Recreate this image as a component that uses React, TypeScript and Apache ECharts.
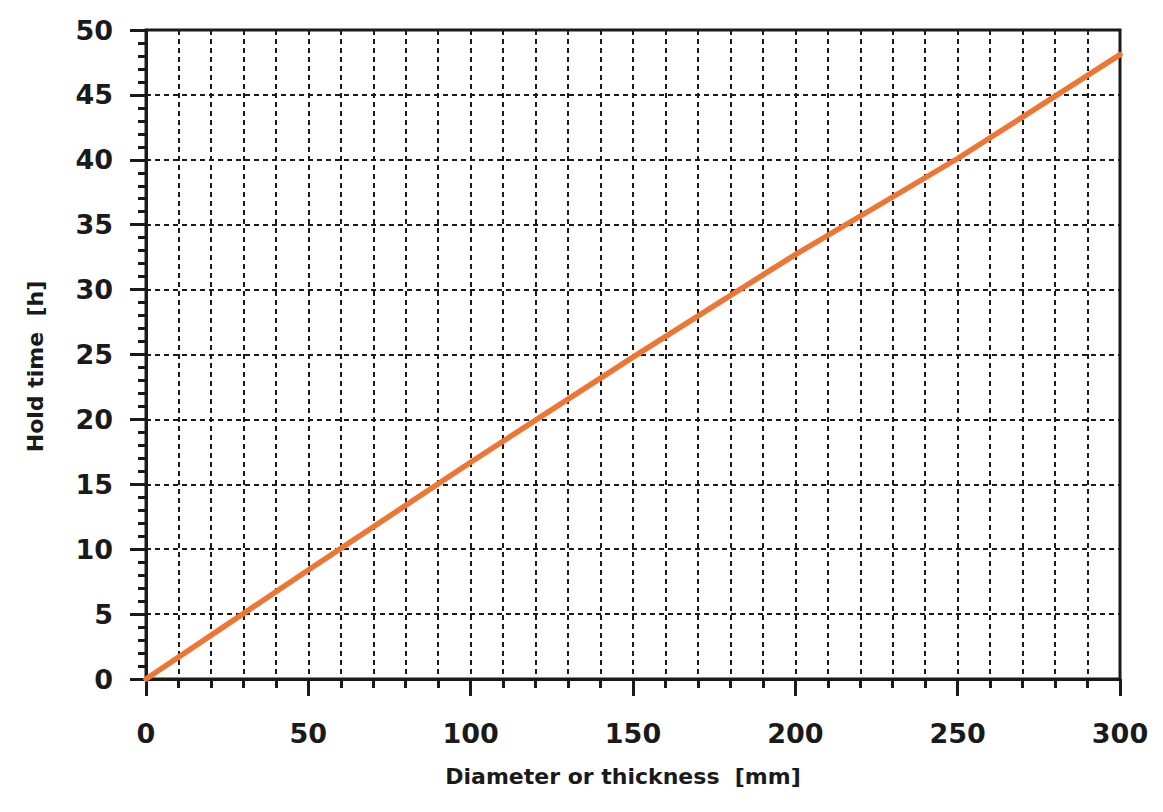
import React, { useEffect, useRef } from "react";
import * as echarts from "echarts";

const diameters = [0, 50, 100, 150, 200, 250, 300];
const holdTimes = [0, 8.4, 16.7, 24.8, 32.7, 40.1, 48.1];
const xTitle = "Diameter or thickness  [mm]";
const yTitle = "Hold time  [h]";

const INK = "#1a1a1a";
const FONT = "DejaVu Sans";

export default function App() {
  const ref = useRef<HTMLDivElement>(null);
  useEffect(() => {
    if (!ref.current) return;
    const chart = echarts.init(ref.current, null, { renderer: "svg" });
    const dashed = { color: INK, width: 2, type: [5, 4] as number[] };
    chart.setOption({
      animation: false,
      grid: {
        left: 138,
        right: 35,
        top: 22,
        bottom: 125,
        show: true,
        borderColor: INK,
        borderWidth: 3,
        z: 3,
      },
      xAxis: {
        type: "value",
        min: 0,
        max: 300,
        interval: 50,
        name: xTitle,
        nameLocation: "middle",
        nameGap: 86,
        nameTextStyle: {
          fontFamily: FONT,
          fontWeight: "bold",
          fontSize: 22,
          color: INK,
          padding: [0, 20, 0, 0],
        },
        axisLine: { show: true, lineStyle: { color: INK, width: 3 } },
        axisTick: { show: true, length: 17, lineStyle: { color: INK, width: 3 } },
        minorTick: { show: true, splitNumber: 5, length: 9, lineStyle: { color: INK, width: 3 } },
        splitLine: { show: true, lineStyle: dashed },
        minorSplitLine: { show: true, lineStyle: dashed },
        axisLabel: { margin: 41, fontFamily: FONT, fontWeight: "bold", fontSize: 27, color: INK },
      },
      yAxis: {
        type: "value",
        min: 0,
        max: 50,
        interval: 5,
        name: yTitle,
        nameLocation: "middle",
        nameGap: 100,
        nameTextStyle: {
          fontFamily: FONT,
          fontWeight: "bold",
          fontSize: 22,
          color: INK,
          padding: [0, 24, 0, 0],
        },
        axisLine: { show: true, lineStyle: { color: INK, width: 3 } },
        axisTick: { show: true, length: 16, lineStyle: { color: INK, width: 3 } },
        minorTick: { show: true, splitNumber: 5, length: 8, lineStyle: { color: INK, width: 3 } },
        splitLine: { show: true, lineStyle: dashed },
        minorSplitLine: { show: false },
        axisLabel: { margin: 33, fontFamily: FONT, fontWeight: "bold", fontSize: 27, color: INK },
      },
      series: [
        {
          type: "line",
          data: diameters.map((d, i) => [d, holdTimes[i]]),
          showSymbol: false,
          symbol: "none",
          clip: false,
          z: 5,
          lineStyle: { color: "#ED7634", width: 5.5, cap: "round" },
        },
      ],
    });
    return () => chart.dispose();
  }, []);
  return <div ref={ref} style={{ width: 1147, height: 796 }} />;
}
